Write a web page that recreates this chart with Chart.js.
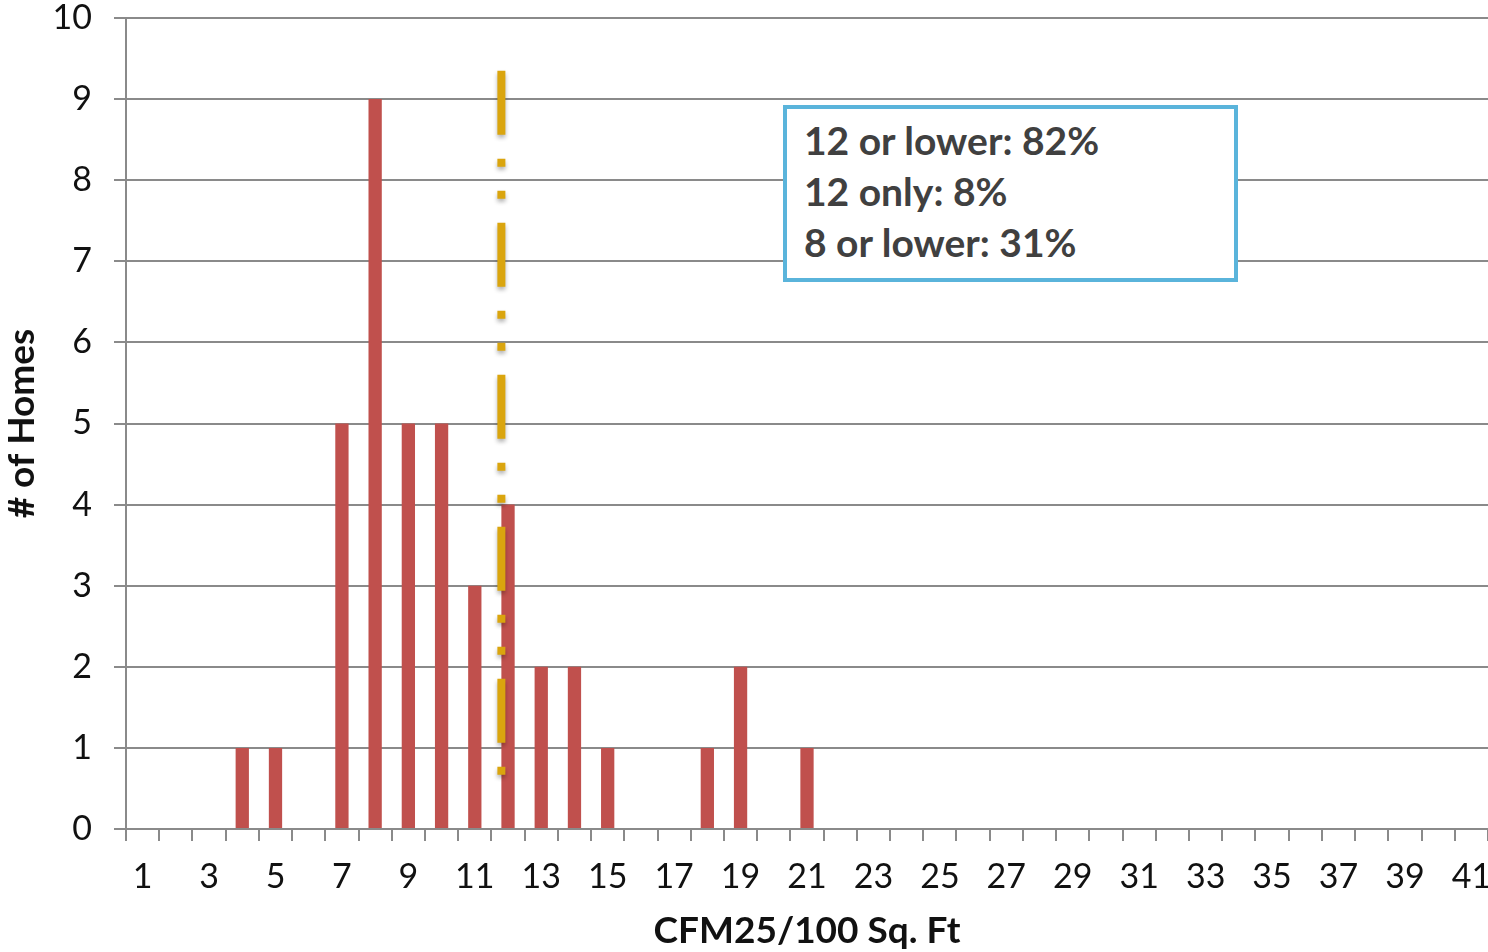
<!DOCTYPE html>
<html>
<head>
<meta charset="utf-8">
<script src="https://cdn.jsdelivr.net/npm/chart.js@4.4.1/dist/chart.umd.min.js"></script>
<style>
    html, body { margin: 0; padding: 0; background: #fff; }
    #wrap { position: relative; width: 1488px; height: 952px; }
    #note {
        position: absolute;
        left: 783px; top: 105px;
        width: 430px; height: 163px;
        border: 4px solid #5ab4db;
        background: #fff;
        font-family: Lato, sans-serif;
        font-weight: bold;
        font-size: 39px;
        line-height: 51px;
        color: #404040;
        padding: 6px 0 0 17px;
        box-sizing: content-box;
        white-space: nowrap;
    }
</style>
</head>
<body>
<div id="wrap">
    <canvas id="chart"></canvas>
    <div id="note">12 or lower: 82%<br>12 only: 8%<br>8 or lower: 31%</div>
</div>
<script>
// Categories: CFM25/100 Sq. Ft bins
const bins = [1, 2, 3, 4, 5, 6, 7, 8, 9, 10, 11, 12, 13, 14, 15, 16, 17, 18, 19, 20, 21,
              22, 23, 24, 25, 26, 27, 28, 29, 30, 31, 32, 33, 34, 35, 36, 37, 38, 39, 40, 41];

// Number of homes per bin
const homes = [0, 0, 0, 1, 1, 0, 5, 9, 5, 5, 3, 4, 2, 2, 1, 0, 0, 1, 2, 0, 1,
               0, 0, 0, 0, 0, 0, 0, 0, 0, 0, 0, 0, 0, 0, 0, 0, 0, 0, 0, 0];

// Dash-dot marker line just left of 12
const markerX = 11.8;
const markerTop = 9.35;
const markerBottom = 0.65;

const yTicks = [0, 1, 2, 3, 4, 5, 6, 7, 8, 9, 10];

const gridColor = '#8a8a8a';
const tickFont = { family: 'Lato', size: 34, lineHeight: 1 };
const titleFont = { family: 'Lato', size: 37, weight: 'bold', lineHeight: 1 };

// soft drop shadow under the dashed marker
const shadowPlugin = {
    id: 'markerShadow',
    beforeDatasetDraw(chart, args) {
        if (args.index !== 0) return;
        const ctx = chart.ctx;
        ctx.save();
        ctx.shadowColor = 'rgba(0,0,0,0.3)';
        ctx.shadowBlur = 4;
        ctx.shadowOffsetY = 3;
    },
    afterDatasetDraw(chart, args) {
        if (args.index !== 0) return;
        chart.ctx.restore();
    }
};

const barData = bins.map((b, i) => ({ x: b, y: homes[i] }));

const ctx = document.getElementById('chart').getContext('2d');
new Chart(ctx, {
    type: 'bar',
    data: {
        datasets: [
            {
                type: 'line',
                label: 'marker',
                data: [{ x: markerX, y: markerTop }, { x: markerX, y: markerBottom }],
                borderColor: '#daa50e',
                borderWidth: 8,
                borderDash: [64, 24, 8, 24, 8, 24],
                borderCapStyle: 'butt',
                pointRadius: 0,
                fill: false
            },
            {
                label: '# of Homes',
                data: barData,
                backgroundColor: '#c0504d',
                categoryPercentage: 1,
                barPercentage: 0.4
            }
        ]
    },
    options: {
        responsive: true,
        maintainAspectRatio: false,
        animation: false,
        layout: { padding: { top: 0, right: 0, bottom: 2, left: 0 } },
        plugins: {
            legend: { display: false },
            tooltip: { enabled: false }
        },
        scales: {
            x: {
                type: 'linear',
                min: bins[0] - 0.5,
                max: bins[bins.length - 1] + 0.5,
                offset: false,
                afterBuildTicks: function(scale) {
                    scale.ticks = bins.map(v => ({ value: v }));
                },
                afterFit: function(scale) {
                    scale.paddingLeft = 0;
                    scale.paddingRight = 0;
                },
                grid: {
                    display: true,
                    drawOnChartArea: false,
                    drawTicks: true,
                    tickLength: 12,
                    color: gridColor,
                    lineWidth: 2,
                    offset: true
                },
                border: { display: true, color: gridColor, width: 2 },
                ticks: {
                    autoSkip: false,
                    maxRotation: 0,
                    padding: 19,
                    color: '#111',
                    font: tickFont,
                    callback: function(val, i) {
                        return i % 2 === 0 ? String(bins[i]) : '';
                    }
                },
                title: {
                    display: true,
                    text: 'CFM25/100 Sq. Ft',
                    color: '#111',
                    font: titleFont,
                    padding: { top: 0, bottom: 0 }
                }
            },
            y: {
                min: 0,
                max: 10,
                afterBuildTicks: function(scale) {
                    scale.ticks = yTicks.map(v => ({ value: v }));
                },
                afterFit: function(scale) {
                    scale.width = 126;
                    scale.paddingTop = 18;
                    scale.paddingBottom = 0;
                },
                grid: {
                    color: gridColor,
                    lineWidth: 2,
                    tickLength: 12
                },
                border: { display: true, color: gridColor, width: 2 },
                ticks: {
                    padding: 22,
                    color: '#111',
                    font: tickFont
                },
                title: {
                    display: true,
                    text: '# of Homes',
                    color: '#111',
                    font: titleFont,
                    padding: { top: 4, bottom: 0 }
                }
            }
        }
    },
    plugins: [shadowPlugin]
});
</script>
</body>
</html>
